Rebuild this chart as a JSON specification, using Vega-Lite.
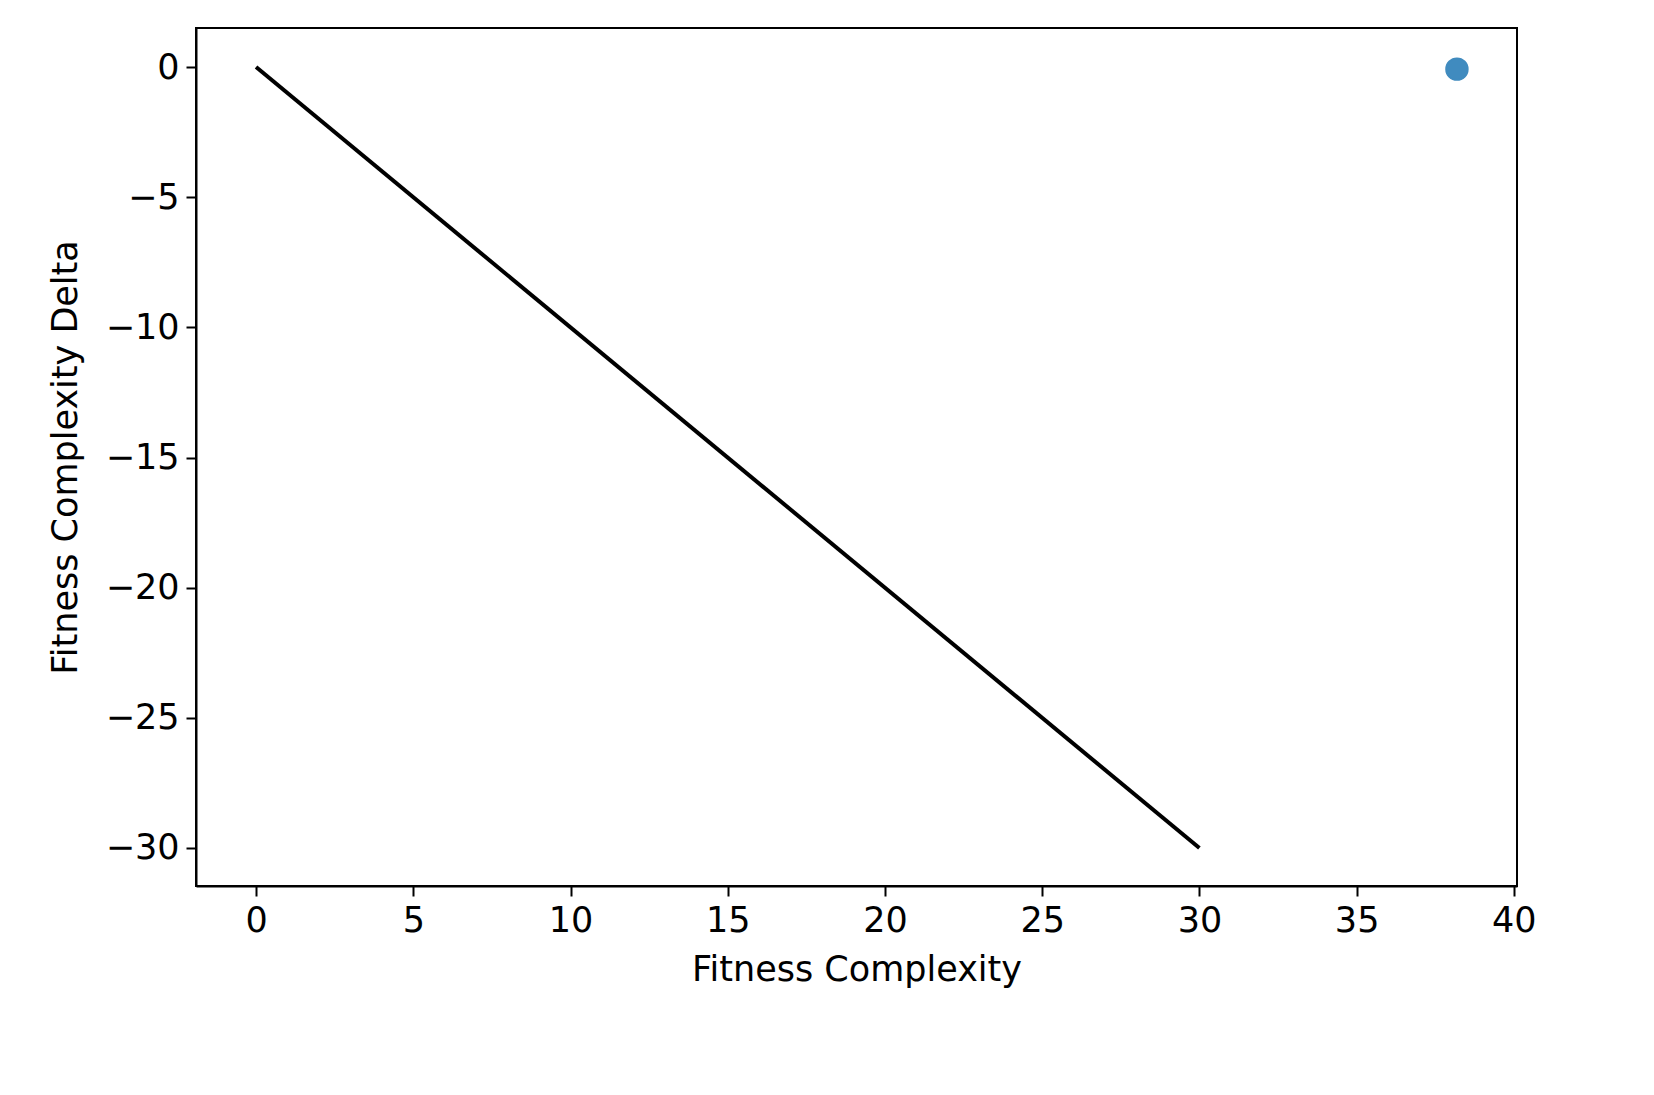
{
  "$schema": "https://vega.github.io/schema/vega-lite/v6.json",
  "autosize": "none",
  "width": 1321,
  "height": 858,
  "padding": {"left": 196, "top": 28, "right": 137, "bottom": 209},
  "background": "white",
  "config": {
    "view": {"stroke": "black", "strokeWidth": 2},
    "font": "DejaVu Sans",
    "axis": {
      "grid": false,
      "domainColor": "black",
      "domainWidth": 2,
      "tickColor": "black",
      "tickWidth": 2,
      "tickSize": 10,
      "labelFontSize": 35,
      "labelColor": "black",
      "labelPadding": 7,
      "titleFontSize": 35,
      "titleFontWeight": "normal",
      "titleColor": "black"
    }
  },
  "layer": [
    {
      "data": {"values": [{"x": 0, "y": 0}, {"x": 30, "y": -30}]},
      "mark": {"type": "line", "color": "black", "strokeWidth": 4, "clip": true},
      "encoding": {
        "x": {"field": "x", "type": "quantitative", "scale": {"domain": [-1.91, 40.1], "nice": false, "zero": false},
          "axis": {"values": [0, 5, 10, 15, 20, 25, 30, 35, 40], "title": "Fitness Complexity", "titlePadding": 14}},
        "y": {"field": "y", "type": "quantitative", "scale": {"domain": [-31.46, 1.5], "nice": false, "zero": false},
          "axis": {"values": [0, -5, -10, -15, -20, -25, -30], "title": "Fitness Complexity Delta", "titlePadding": 22}}
      }
    },
    {
      "data": {"values": [{"x": 38.19, "y": -0.08}]},
      "mark": {"type": "circle", "size": 480, "color": "#1f77b4", "opacity": 0.85, "stroke": "#1f77b4", "strokeWidth": 1.5},
      "encoding": {
        "x": {"field": "x", "type": "quantitative"},
        "y": {"field": "y", "type": "quantitative"}
      }
    }
  ]
}
